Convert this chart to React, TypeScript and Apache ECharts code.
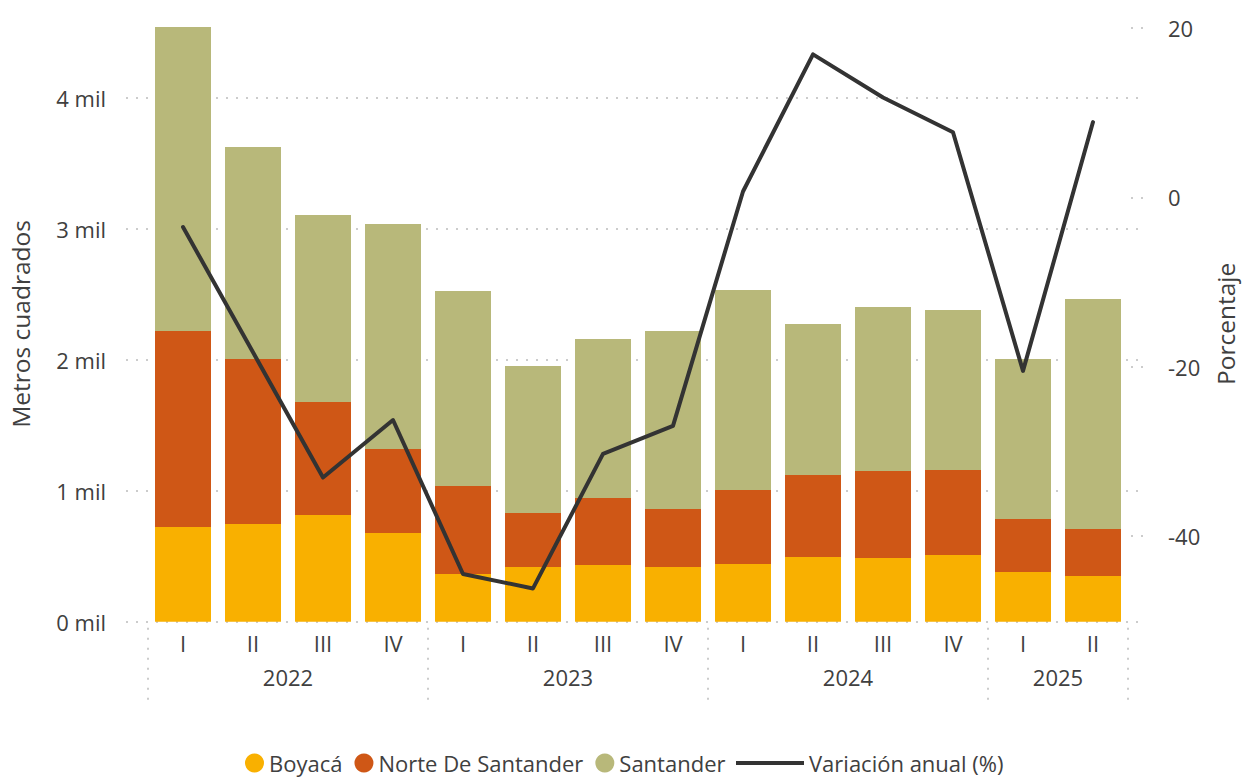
import React, { useEffect, useRef } from "react";
import * as echarts from "echarts";

const quarters = ["I", "II", "III", "IV", "I", "II", "III", "IV", "I", "II", "III", "IV", "I", "II"];
const years = ["2022", "2023", "2024", "2025"];
const quartersPerYear = [4, 4, 4, 2];

const boyaca = [723, 746, 815, 677, 364, 418, 433, 418, 441, 494, 486, 509, 379, 349];
const norteDeSantander = [1496, 1259, 862, 641, 672, 412, 511, 442, 564, 626, 664, 649, 405, 359];
const santander = [2321, 1619, 1428, 1718, 1488, 1122, 1214, 1359, 1527, 1153, 1253, 1222, 1221, 1755];
const variacionAnual = [-3.5, -18.3, -33.1, -26.3, -44.5, -46.2, -30.3, -27.0, 0.7, 16.9, 11.8, 7.7, -20.5, 8.9];

const leftTicks = [0, 1000, 2000, 3000, 4000];
const rightTicks = [-40, -20, 0, 20];

const FONT = "Open Sans";
const TEXT = "#404040";
const DOT = { color: "#cccccc", width: 2, type: [2, 8] as any };

const LEFT_MIN = 0;
const LEFT_MAX = 4547;
const RIGHT_MIN = -50.13;
const RIGHT_MAX = 20.25;

export default function App() {
  const ref = useRef<HTMLDivElement>(null);
  useEffect(() => {
    if (!ref.current) return;
    const chart = echarts.init(ref.current, undefined, { renderer: "svg" });

    const yearCenters: number[] = [];
    const yearBounds: number[] = [-0.5];
    let start = 0;
    quartersPerYear.forEach((n) => {
      yearCenters.push(start + (n - 1) / 2);
      start += n;
      yearBounds.push(start - 0.5);
    });
    const yearLabel = (v: number) => {
      const i = yearCenters.findIndex((c) => Math.abs(c - v) < 1e-6);
      return i >= 0 ? years[i] : "";
    };

    const hidden = {
      axisLine: { show: false, onZero: false },
      axisTick: { show: false },
      axisLabel: { show: false },
      splitLine: { show: false },
    };

    const legendText = { fontSize: 22, lineHeight: 22, color: TEXT, fontFamily: FONT };

    chart.setOption({
      animation: false,
      textStyle: { fontFamily: FONT },
      grid: [
        { left: 126, right: 96, top: 26, bottom: 157.3 },
        { left: 148, right: 118, top: 26, bottom: 157.3 },
      ],
      legend: [
        {
          data: ["Boyacá", "Norte De Santander", "Santander"],
          icon: "circle",
          left: 245,
          top: 752,
          padding: 0,
          itemWidth: 19,
          itemHeight: 19,
          itemGap: 12,
          textStyle: legendText,
        },
        {
          data: [{ name: "Variación anual (%)", icon: "rect" }],
          left: 736,
          top: 752,
          padding: 0,
          itemWidth: 68,
          itemHeight: 4,
          itemStyle: { color: "#333333" },
          textStyle: legendText,
        },
      ],
      xAxis: [
        { type: "value", gridIndex: 0, min: 0, max: 1, ...hidden },
        {
          type: "category",
          gridIndex: 1,
          data: quarters,
          axisLine: { show: false, onZero: false },
          axisTick: { show: false },
          splitLine: { show: false },
          axisLabel: {
            interval: 0,
            margin: 10,
            fontSize: 22,
            color: TEXT,
            fontFamily: FONT,
          },
        },
        {
          type: "value",
          gridIndex: 1,
          min: -0.5,
          max: quarters.length - 0.5,
          position: "bottom",
          offset: 6,
          axisLine: { show: false, onZero: false },
          splitLine: { show: false },
          axisTick: {
            show: true,
            customValues: yearBounds,
            length: 72,
            lineStyle: DOT,
          },
          axisLabel: {
            customValues: yearCenters,
            formatter: yearLabel,
            margin: 38,
            fontSize: 22,
            color: TEXT,
            fontFamily: FONT,
          },
        },
      ],
      yAxis: [
        {
          type: "value",
          gridIndex: 0,
          min: LEFT_MIN,
          max: LEFT_MAX,
          interval: 1000,
          name: "Metros cuadrados",
          nameLocation: "middle",
          nameRotate: 90,
          nameGap: 93,
          nameTextStyle: { fontSize: 24.5, color: TEXT, fontFamily: FONT },
          axisLine: { show: false, onZero: false },
          axisTick: { show: false },
          splitLine: { show: true, showMaxLine: false, lineStyle: DOT },
          axisLabel: {
            customValues: leftTicks,
            formatter: (v: number) => `${Math.round(v / 1000)} mil`,
            margin: 20,
            fontSize: 22,
            color: TEXT,
            fontFamily: FONT,
          },
        },
        {
          type: "value",
          gridIndex: 0,
          min: RIGHT_MIN,
          max: RIGHT_MAX,
          position: "right",
          name: "Porcentaje",
          nameLocation: "middle",
          nameRotate: 90,
          nameGap: 70,
          nameTextStyle: { fontSize: 24.5, color: TEXT, fontFamily: FONT },
          axisLine: { show: false, onZero: false },
          splitLine: { show: false },
          axisTick: {
            show: true,
            inside: true,
            length: 12,
            customValues: rightTicks,
            lineStyle: DOT,
          },
          axisLabel: {
            customValues: rightTicks,
            margin: 25,
            fontSize: 22,
            color: TEXT,
            fontFamily: FONT,
          },
        },
        { type: "value", gridIndex: 1, min: LEFT_MIN, max: LEFT_MAX, ...hidden },
        { type: "value", gridIndex: 1, min: RIGHT_MIN, max: RIGHT_MAX, position: "right", ...hidden },
      ],
      series: [
        {
          name: "Boyacá",
          type: "bar",
          stack: "total",
          xAxisIndex: 1,
          yAxisIndex: 2,
          barWidth: 56,
          itemStyle: { color: "#F9B000" },
          data: boyaca,
        },
        {
          name: "Norte De Santander",
          type: "bar",
          stack: "total",
          xAxisIndex: 1,
          yAxisIndex: 2,
          barWidth: 56,
          itemStyle: { color: "#CF5716" },
          data: norteDeSantander,
        },
        {
          name: "Santander",
          type: "bar",
          stack: "total",
          xAxisIndex: 1,
          yAxisIndex: 2,
          barWidth: 56,
          itemStyle: { color: "#B8B87A" },
          data: santander,
        },
        {
          name: "Variación anual (%)",
          type: "line",
          xAxisIndex: 1,
          yAxisIndex: 3,
          symbol: "none",
          z: 5,
          itemStyle: { color: "#333333" },
          lineStyle: { color: "#333333", width: 4, join: "round", cap: "round" },
          data: variacionAnual,
        },
      ],
    });
    return () => chart.dispose();
  }, []);
  return (
    <div
      ref={ref}
      style={{ position: "fixed", left: 0, top: 0, width: 1246, height: 779, background: "#fff" }}
    />
  );
}
